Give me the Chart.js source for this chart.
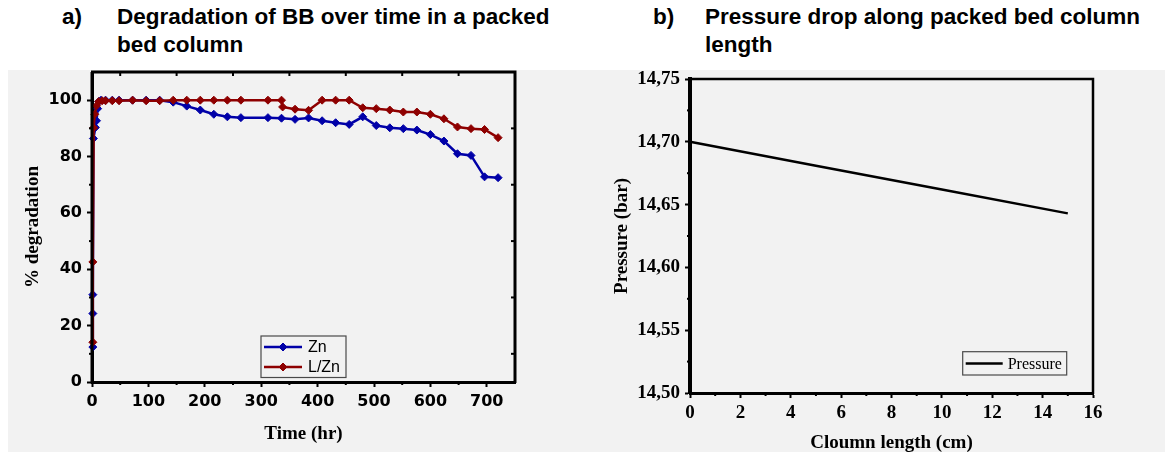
<!DOCTYPE html>
<html><head><meta charset="utf-8">
<script src="https://cdn.jsdelivr.net/npm/chart.js@4.4.1/dist/chart.umd.min.js"></script>
<style>
html,body{margin:0;padding:0;width:1165px;height:452px;overflow:hidden;background:#fff;}
#bg{position:absolute;left:8px;top:70px;width:1157px;height:382px;background:#f2f2f2;}
.title{position:absolute;top:3px;font:bold 22.5px "Liberation Sans",Arial,sans-serif;line-height:28px;color:#000;display:flex;white-space:nowrap;}
.title .lab{display:inline-block;width:55px;}
#c1wrap{position:absolute;left:8px;top:60px;width:592px;height:392px;}
#c2wrap{position:absolute;left:600px;top:60px;width:565px;height:402px;}
</style></head>
<body>
<div id="bg"></div>
<div class="title" style="left:62px"><span class="lab">a)</span><span>Degradation of BB over time in a packed<br>bed column</span></div>
<div class="title" style="left:653px"><span class="lab" style="width:52px">b)</span><span>Pressure drop along packed bed column<br>length</span></div>
<div id="c1wrap"><canvas id="c1"></canvas></div>
<div id="c2wrap"><canvas id="c2"></canvas></div>
<script>
// ---------- data: chart a ----------
const timeZn = [1.5,1.5,1.5,2.5,6,8,10,12,16,24,36,48,72,96,120,144,168,192,216,240,264,312,336,360,384,408,432,456,480,504,528,552,576,600,624,648,672,696,720];
const degZn  = [12.4,24.3,31.0,86.4,90.3,92.7,97.0,99.5,100,100,100,100,100,100,100,99.3,97.9,96.5,95.0,94.1,93.8,93.8,93.6,93.2,93.7,92.7,92.0,91.4,94.1,91.0,90.2,89.9,89.4,87.8,85.5,81.0,80.4,72.8,72.5];
const timeLZn = [1.5,1.5,3,5,8,12,18,24,36,48,72,96,120,144,168,192,216,240,264,312,336,338,360,384,408,432,456,480,504,528,552,576,600,624,648,672,696,720];
const degLZn  = [14.1,42.6,90.2,95.0,98.0,99.5,99.8,99.8,99.8,99.8,100,99.8,99.8,100,100,100,100,100,100,100,100,97.6,96.8,96.4,100,100,100,97.3,97.0,96.5,95.8,95.8,95.0,93.4,90.5,89.9,89.6,86.7];
const seriesNamesA = ['Zn','L/Zn'];
const timeTicks = [0,100,200,300,400,500,600,700];
const timeMinor = [50,150,250,350,450,550,650];
const degTicks = [0,20,40,60,80,100];
const degMinor = [10,30,50,70,90];

// ---------- data: chart b ----------
const lengthCm = [0,5,10,15];
const pressureBar = [14.700,14.681,14.662,14.643];
const seriesNameB = 'Pressure';
const lengthTicks = [0,2,4,6,8,10,12,14,16];
const lengthMinor = [1,3,5,7,9,11,13,15];
const pressureTicks = [14.50,14.55,14.60,14.65,14.70,14.75];
const pressureTickLabels = ['14,50','14,55','14,60','14,65','14,70','14,75'];
const pressureMinor = [14.525,14.575,14.625,14.675,14.725];

const BLUE = '#0000a8', RED = '#8e0000';
const sansB = {family:'DejaVu Sans', weight:'bold', size:16};
const serifB = {family:'Liberation Serif', weight:'bold', size:19};

function line(ctx,x1,y1,x2,y2){ctx.beginPath();ctx.moveTo(x1,y1);ctx.lineTo(x2,y2);ctx.stroke();}

function framePlugin(cfg){
  return {id:'frame', afterDraw(chart){
    const {ctx, chartArea:a, scales} = chart;
    ctx.save();
    ctx.strokeStyle = '#000';
    ctx.lineWidth = cfg.frameW;
    ctx.beginPath();
    ctx.moveTo(a.left-1, a.top); ctx.lineTo(a.right, a.top); ctx.lineTo(a.right, a.bottom+1);
    ctx.stroke();
    if (cfg.leftAxisW) { ctx.lineWidth = cfg.leftAxisW; line(ctx, a.left, a.top, a.left, a.bottom+1.5); }
    ctx.lineWidth = 2;
    cfg.xMinor.forEach(v=>{const x=scales.x.getPixelForValue(v); line(ctx,x,a.bottom,x,a.bottom+cfg.minorLen);});
    cfg.yMinor.forEach(v=>{const y=scales.y.getPixelForValue(v); line(ctx,a.left-cfg.minorLen,y,a.left,y);});
    (cfg.xTop||[]).forEach(v=>{const x=scales.x.getPixelForValue(v); line(ctx,x,a.top,x,a.top+4);});
    (cfg.yRight||[]).forEach(v=>{const y=scales.y.getPixelForValue(v); line(ctx,a.right-4,y,a.right,y);});
    ctx.restore();
  }};
}

function legendPlugin(cfg){
  return {id:'boxlegend', afterDraw(chart){
    const {ctx, chartArea:a} = chart;
    const bx = a.left + cfg.dx, by = a.top + cfg.dy;
    ctx.save();
    ctx.strokeStyle = '#4a4a4a'; ctx.lineWidth = 1.2;
    ctx.strokeRect(bx, by, cfg.w, cfg.h);
    chart.data.datasets.forEach((ds,i)=>{
      const y = by + cfg.row0 + i*cfg.rowH;
      ctx.strokeStyle = ds.borderColor; ctx.lineWidth = ds.borderWidth;
      line(ctx, bx+3, y, bx+cfg.lineLen, y);
      if (ds.pointRadius > 0) {
        ctx.fillStyle = ds.pointBackgroundColor; ctx.strokeStyle = ds.pointBorderColor; ctx.lineWidth = 1;
        Chart.helpers.drawPoint(ctx, {pointStyle:'rectRot', radius:ds.pointRadius, borderWidth:1, rotation:0}, bx+3+(cfg.lineLen-3)/2, y);
      }
      ctx.fillStyle = '#000'; ctx.font = cfg.font; ctx.textBaseline = 'middle'; ctx.textAlign = 'left';
      ctx.fillText(ds.label, bx+cfg.textX, y+1);
    });
    ctx.restore();
  }};
}

function fixTicks(arr){ return ax => { ax.ticks = arr.map(v=>({value:v})); }; }

// ---------- chart a ----------
new Chart(document.getElementById('c1'), {
  type:'line',
  data:{datasets:[
    {label:seriesNamesA[0], data:timeZn.map((t,i)=>({x:t,y:degZn[i]})), borderColor:BLUE, backgroundColor:BLUE,
     pointBackgroundColor:BLUE, pointBorderColor:BLUE, borderWidth:2.5, pointRadius:4, pointBorderWidth:1,
     pointStyle:'rectRot', order:2, clip:false, tension:0},
    {label:seriesNamesA[1], data:timeLZn.map((t,i)=>({x:t,y:degLZn[i]})), borderColor:RED, backgroundColor:RED,
     pointBackgroundColor:RED, pointBorderColor:RED, borderWidth:2.5, pointRadius:4, pointBorderWidth:1,
     pointStyle:'rectRot', order:1, clip:false, tension:0}
  ]},
  options:{
    responsive:true, maintainAspectRatio:false, animation:false, events:[],
    layout:{padding:{top:12, right:85, left:0, bottom:0}},
    plugins:{legend:{display:false}, tooltip:{enabled:false}},
    scales:{
      x:{type:'linear', min:0, max:750, afterBuildTicks:fixTicks(timeTicks),
         afterFit:s=>{s.height=70; s.paddingLeft=0; s.paddingRight=0;},
         ticks:{font:sansB, color:'#000', padding:5, maxRotation:0, autoSkip:false},
         grid:{drawOnChartArea:false, drawTicks:true, tickLength:5, tickWidth:2, tickColor:'#000'},
         border:{display:true, color:'#000', width:3},
         title:{display:true, text:'Time (hr)', font:serifB, color:'#000', padding:7}},
      y:{type:'linear', min:0, max:110, afterBuildTicks:fixTicks(degTicks),
         afterFit:s=>{s.width=84; s.paddingTop=0; s.paddingBottom=0;},
         ticks:{font:sansB, color:'#000', padding:5, autoSkip:false},
         grid:{drawOnChartArea:false, drawTicks:true, tickLength:5, tickWidth:2, tickColor:'#000'},
         border:{display:true, color:'#000', width:3},
         title:{display:true, text:'% degradation', font:serifB, color:'#000', padding:14}}
    }
  },
  plugins:[
    framePlugin({frameW:3, leftAxisW:3, minorLen:3, xMinor:timeMinor, yMinor:degMinor,
                 xTop:timeMinor, yRight:degMinor}),
    legendPlugin({dx:169, dy:264, w:85, h:41.5, row0:11, rowH:20, lineLen:41, textX:47,
                  font:'16px "Liberation Sans", Arial, sans-serif'})
  ]
});

// ---------- chart b ----------
new Chart(document.getElementById('c2'), {
  type:'line',
  data:{datasets:[
    {label:seriesNameB, data:lengthCm.map((x,i)=>({x:x,y:pressureBar[i]})), borderColor:'#000', backgroundColor:'#000',
     borderWidth:2.5, pointRadius:0, tension:0, clip:false}
  ]},
  options:{
    responsive:true, maintainAspectRatio:false, animation:false, events:[],
    layout:{padding:{top:19, right:72, left:0, bottom:0}},
    plugins:{legend:{display:false}, tooltip:{enabled:false}},
    scales:{
      x:{type:'linear', min:0, max:16, afterBuildTicks:fixTicks(lengthTicks),
         afterFit:s=>{s.height=69; s.paddingLeft=0; s.paddingRight=0;},
         ticks:{font:serifB, color:'#000', padding:4, maxRotation:0, autoSkip:false},
         grid:{drawOnChartArea:false, drawTicks:true, tickLength:5, tickWidth:2, tickColor:'#000'},
         border:{display:true, color:'#000', width:3},
         title:{display:true, text:'Cloumn length (cm)', font:serifB, color:'#000', padding:7.4}},
      y:{type:'linear', min:14.5, max:14.75, afterBuildTicks:fixTicks(pressureTicks),
         afterFit:s=>{s.width=90; s.paddingTop=0; s.paddingBottom=0;},
         ticks:{font:serifB, color:'#000', padding:5, autoSkip:false,
                callback:(v)=>{const i=pressureTicks.findIndex(p=>Math.abs(p-v)<1e-6); return i>=0?pressureTickLabels[i]:'';}},
         grid:{drawOnChartArea:false, drawTicks:true, tickLength:5, tickWidth:2, tickColor:'#000'},
         border:{display:true, color:'#000', width:4},
         title:{display:true, text:'Pressure (bar)', font:serifB, color:'#000', padding:10.6}}
    }
  },
  plugins:[
    framePlugin({frameW:2.5, minorLen:3, xMinor:lengthMinor, yMinor:pressureMinor}),
    legendPlugin({dx:272.7, dy:272.7, w:104, h:23.3, row0:11.7, rowH:20, lineLen:40, textX:45,
                  font:'16px "Liberation Serif", "Times New Roman", serif'})
  ]
});
</script>
</body></html>
